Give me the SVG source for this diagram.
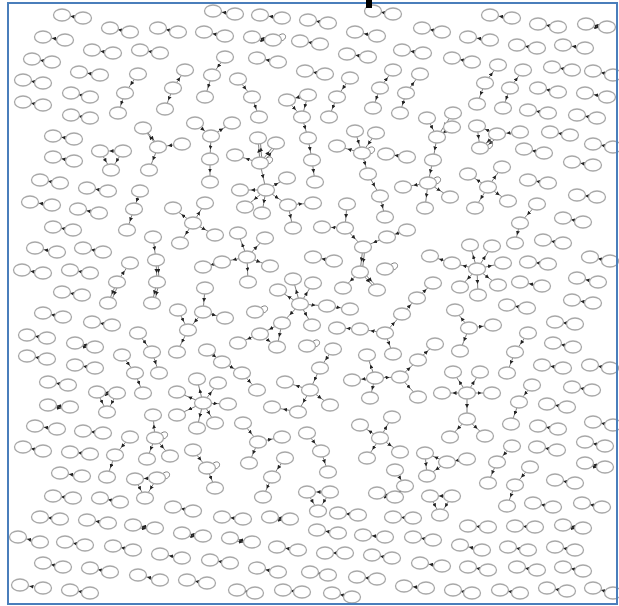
<svg xmlns="http://www.w3.org/2000/svg" xmlns:xlink="http://www.w3.org/1999/xlink" width="619" height="606" viewBox="0 0 619 606">
<style>
.c path{fill:none;stroke:#707070;stroke-width:0.9;marker-mid:url(#a)}
.c path.l{marker-mid:none}
</style>
<defs>
<marker id="a" viewBox="0 0 6 6" refX="3" refY="3" markerWidth="4" markerHeight="4" markerUnits="userSpaceOnUse" orient="auto"><path d="M0,0L6,3L0,6z" fill="#222"/></marker>
<ellipse id="e" cx="0" cy="0" rx="8.5" ry="6" fill="#fff" stroke="#a8a8a8" stroke-width="1.3"/>
</defs>
<rect x="0" y="0" width="619" height="606" fill="#fff"/>
<g class="c" id="connectors">
<path d="M83,18L72.5,16.5L62,15"/><path d="M130,32L120,30L110,28"/><path d="M178,32L168,30L158,28"/><path d="M65,40L54,38.5L43,37"/><path d="M113,53L102.5,51.5L92,50"/><path d="M160,53L150,51.5L140,50"/><path d="M52,62L42,60.5L32,59"/><path d="M100,75L89.5,73.5L79,72"/><path d="M43,83L33,81.5L23,80"/><path d="M90,97L80.5,95L71,93"/><path d="M43,105L33,103.5L23,102"/><path d="M90,118L80.5,116.5L71,115"/><path d="M74,139L63.5,137.5L53,136"/><path d="M74,161L63.5,159L53,157"/><path d="M60,183L50,181.5L40,180"/><path d="M108,191L97.5,189.5L87,188"/><path d="M235,14L224,12.5L213,11"/><path d="M282,18L271,16.5L260,15"/><path d="M328,23L318,21.5L308,20"/><path d="M393,14L383,12.5L373,11"/><path d="M225,36L214.5,34L204,32"/><path d="M273,40L262.5,38.5L252,37"/><path d="M252,39L262.5,40.5L273,42"/><path d="M320,44L310,42.5L300,41"/><path d="M377,36L366,34L355,32"/><path d="M368,57L357.5,55.5L347,54"/><path d="M278,62L267.5,60L257,58"/><path d="M325,74L315,72.5L305,71"/><path d="M423,53L412.5,51.5L402,50"/><path d="M512,18L501,16.5L490,15"/><path d="M442,32L432,30L422,28"/><path d="M558,27L548,25.5L538,24"/><path d="M607,27L596.5,25.5L586,24"/><path d="M586,26L596.5,27.5L607,29"/><path d="M490,40L479,38.5L468,37"/><path d="M537,48L527,46.5L517,45"/><path d="M585,48L574,46.5L563,45"/><path d="M472,62L462,60L452,58"/><path d="M572,70L562,68.5L552,67"/><path d="M613,75L603,73L593,71"/><path d="M558,92L548,90L538,88"/><path d="M607,97L596,95L585,93"/><path d="M548,113L538,111.5L528,110"/><path d="M597,118L587,116.5L577,115"/><path d="M570,135L560,133.5L550,132"/><path d="M613,147L603,145.5L593,144"/><path d="M544,153L534,151L524,149"/><path d="M593,165L582.5,163.5L572,162"/><path d="M548,183L538,181.5L528,180"/><path d="M597,197L587,196L577,195"/><path d="M407,157L396.5,155.5L386,154"/>
<path d="M52,205L41,203.5L30,202"/><path d="M99,213L88.5,211L78,209"/><path d="M73,230L63,228.5L53,227"/><path d="M57,252L46,250L35,248"/><path d="M103,252L93,250L83,248"/><path d="M43,273L32.5,271.5L22,270"/><path d="M90,273L80,271.5L70,270"/><path d="M82,295L72,293.5L62,292"/><path d="M63,317L53,315L43,313"/><path d="M112,325L102,323.5L92,322"/><path d="M47,338L37,336.5L27,335"/><path d="M95,347L85,345L75,343"/><path d="M75,345L85,347L95,349"/><path d="M47,359L37,357.5L27,356"/><path d="M95,368L85,366.5L75,365"/><path d="M68,385L58,383.5L48,382"/><path d="M334,261L323.5,259L313,257"/><path d="M583,222L573,220L563,218"/><path d="M563,243L553,241.5L543,240"/><path d="M548,264L538,263L528,262"/><path d="M610,261L600,259L590,257"/><path d="M542,286L531,284L520,282"/><path d="M598,282L587.5,280L577,278"/><path d="M527,308L517,306.5L507,305"/><path d="M593,303L582.5,301.5L572,300"/><path d="M575,324L565,323L555,322"/><path d="M573,347L563,345L553,343"/><path d="M563,368L552.5,366.5L542,365"/><path d="M610,368L600,366.5L590,365"/><path d="M592,390L582,388.5L572,387"/><path d="M567,407L557,405.5L547,404"/>
<path d="M70,407L59,406L48,405"/><path d="M48,407L59,408L70,409"/><path d="M57,429L46,427.5L35,426"/><path d="M103,433L93,432L83,431"/><path d="M43,451L33,449L23,447"/><path d="M90,454L80,453L70,452"/><path d="M82,476L71,474.5L60,473"/><path d="M73,498L63,497L53,496"/><path d="M120,502L110,500L100,498"/><path d="M60,519L50,518L40,517"/><path d="M108,523L97.5,521.5L87,520"/><path d="M155,528L144,526.5L133,525"/><path d="M133,527L144,528.5L155,530"/><path d="M40,542L29,539.5L18,537"/><path d="M85,545L75,543.5L65,542"/><path d="M133,550L123,548L113,546"/><path d="M182,558L171,556L160,554"/><path d="M63,567L53,565L43,563"/><path d="M110,572L100,570L90,568"/><path d="M160,580L149,577.5L138,575"/><path d="M207,583L197,581.5L187,580"/><path d="M43,588L31.5,586.5L20,585"/><path d="M90,593L80,591.5L70,590"/><path d="M193,511L183,509L173,507"/><path d="M203,536L192.5,534.5L182,533"/><path d="M182,535L192.5,536.5L203,538"/><path d="M358,515L348,514L338,513"/><path d="M243,519L232.5,518L222,517"/><path d="M290,519L280,518L270,517"/><path d="M270,519L280,520L290,521"/><path d="M338,533L327.5,531.5L317,530"/><path d="M385,537L374,536L363,535"/><path d="M252,542L241,540L230,538"/><path d="M230,540L241,542L252,544"/><path d="M298,550L287.5,548.5L277,547"/><path d="M345,553L335,553L325,553"/><path d="M392,558L382,556.5L372,555"/><path d="M230,563L220,561.5L210,560"/><path d="M278,572L267.5,570L257,568"/><path d="M328,575L319,573.5L310,572"/><path d="M377,579L367,578L357,577"/><path d="M255,593L246,591.5L237,590"/><path d="M302,592L292.5,591L283,590"/><path d="M352,597L342,595L332,593"/><path d="M413,518L403,517.5L393,517"/><path d="M558,429L548,427.5L538,426"/><path d="M613,425L603,423.5L593,422"/><path d="M605,446L595,444L585,442"/><path d="M557,450L547,448.5L537,447"/><path d="M605,467L595,465L585,463"/><path d="M585,465L595,467L605,469"/><path d="M575,483L565,481.5L555,480"/><path d="M553,507L543,505L533,503"/><path d="M602,507L592,505L582,503"/><path d="M488,527L478,526.5L468,526"/><path d="M535,527L525,526.5L515,526"/><path d="M583,528L573,526.5L563,525"/><path d="M563,527L573,528.5L583,530"/><path d="M433,540L423,538.5L413,537"/><path d="M482,550L471,547.5L460,545"/><path d="M528,550L518,548.5L508,547"/><path d="M575,550L565,548.5L555,547"/><path d="M442,566L431,564.5L420,563"/><path d="M488,570L478,568.5L468,567"/><path d="M537,570L527,568.5L517,567"/><path d="M583,571L573,569L563,567"/><path d="M426,588L415,587L404,586"/><path d="M472,593L462.5,591.5L453,590"/><path d="M520,593L510,591.5L500,590"/><path d="M567,591L557,589.5L547,588"/><path d="M613,593L603,590.5L593,588"/>
<path d="M138,74L131.5,83.5L125,93"/><path d="M125,93L121.5,103L118,113"/>
<path d="M173,88L179,79L185,70"/><path d="M173,88L169,98.5L165,109"/>
<path d="M123,151L111.5,151L100,151"/><path d="M100,151L105.5,160.5L111,170"/><path d="M123,151L117,160.5L111,170"/>
<path d="M158,147L150.5,137.5L143,128"/><path d="M145,129L152.5,138.5L160,148"/><path d="M182,144L170,145.5L158,147"/><path d="M158,147L153.5,158.5L149,170"/>
<path d="M195,123L203,129.5L211,136"/><path d="M211,136L221.5,129.5L232,123"/><path d="M211,136L210.5,147.5L210,159"/><path d="M210,159L210,170.5L210,182"/>
<path d="M225,57L218.5,66L212,75"/><path d="M212,75L208.5,86L205,97"/>
<path d="M238,79L245,88L252,97"/><path d="M252,97L255.5,107L259,117"/>
<path d="M308,95L297.5,97.5L287,100"/><path d="M287,100L294.5,108.5L302,117"/><path d="M308,95L305,106L302,117"/><path d="M302,117L305,127.5L308,138"/><path d="M308,138L310,149L312,160"/><path d="M312,160L313.5,171L315,182"/>
<path d="M350,78L343.5,87.5L337,97"/><path d="M337,97L333,107L329,117"/>
<path d="M380,88L386.5,79L393,70"/><path d="M380,88L376.5,98L373,108"/>
<path d="M406,93L413,83.5L420,74"/><path d="M406,93L403,103L400,113"/>
<path d="M260,163L259,150.5L258,138"/><path d="M262,162L261,149.5L260,137"/><path d="M260,163L268,153L276,143"/><path d="M262,164L270,154L278,144"/><path d="M260,163L247.5,159L235,155"/><path d="M260,163L263,176.5L266,190"/><path d="M266,190L253,190L240,190"/><path d="M266,190L276.5,184L287,178"/><path d="M266,190L255.5,198.5L245,207"/><path d="M266,190L264,201.5L262,213"/><path d="M266,190L277,197.5L288,205"/><path d="M288,205L300.5,204L313,203"/><path d="M288,205L290.5,216.5L293,228"/>
<path d="M355,131L358.5,142L362,153"/><path d="M376,133L369,143L362,153"/><path d="M362,153L349.5,149.5L337,146"/><path d="M362,153L365,163.5L368,174"/><path d="M368,174L374,185L380,196"/><path d="M380,196L382.5,206.5L385,217"/>
<path d="M427,118L432,127.5L437,137"/><path d="M453,113L445,125L437,137"/><path d="M452,127L444.5,132L437,137"/><path d="M437,137L435,148.5L433,160"/><path d="M433,160L430.5,171.5L428,183"/><path d="M428,183L415.5,185L403,187"/><path d="M428,183L439,190L450,197"/><path d="M428,183L426.5,195.5L425,208"/>
<path d="M497,134L487,130L477,126"/><path d="M520,132L508.5,133L497,134"/><path d="M477,126L478.5,137L480,148"/><path d="M497,134L488.5,141L480,148"/><path d="M499,136L490.5,143L482,150"/>
<path d="M485,83L491.5,74L498,65"/><path d="M485,83L481,93.5L477,104"/>
<path d="M510,88L516.5,79L523,70"/><path d="M510,88L506.5,98L503,108"/>
<path d="M488,187L478,180.5L468,174"/><path d="M488,187L495,177L502,167"/><path d="M488,187L498,194L508,201"/><path d="M488,187L481.5,197.5L475,208"/>
<path d="M140,191L137,200L134,209"/><path d="M134,209L130.5,219.5L127,230"/>
<path d="M117,282L123.5,272.5L130,263"/><path d="M117,282L112.5,292.5L108,303"/><path d="M119,283L114.5,293.5L110,304"/>
<path d="M153,237L154.5,248.5L156,260"/><path d="M156,260L156.5,271L157,282"/><path d="M158,260L158.5,271L159,282"/><path d="M157,282L154.5,292.5L152,303"/><path d="M159,283L156.5,293.5L154,304"/>
<path d="M193,223L183,215.5L173,208"/><path d="M193,223L186.5,233L180,243"/><path d="M193,223L199,213L205,203"/><path d="M193,223L204,229L215,235"/>
<path d="M247,257L242.5,245L238,233"/><path d="M247,257L256,247.5L265,238"/><path d="M247,257L234.5,259.5L222,262"/><path d="M247,257L258.5,261.5L270,266"/><path d="M247,257L247.5,269.5L248,282"/><path d="M222,262L212.5,264.5L203,267"/>
<path d="M178,310L183,320L188,330"/><path d="M203,312L195.5,321L188,330"/><path d="M205,288L204,300L203,312"/><path d="M203,312L214,315L225,318"/><path d="M188,330L182.5,341L177,352"/>
<path d="M138,333L145,342.5L152,352"/><path d="M152,352L155.5,362.5L159,373"/>
<path d="M122,355L128.5,364L135,373"/><path d="M135,373L139,383L143,393"/>
<path d="M207,350L214.5,356L222,362"/><path d="M222,362L232,367.5L242,373"/><path d="M242,373L249.5,381.5L257,390"/>
<path d="M203,403L190,397.5L177,392"/><path d="M203,403L200,391L197,379"/><path d="M203,403L210.5,393L218,383"/><path d="M203,403L215.5,403.5L228,404"/><path d="M203,403L190,409L177,415"/><path d="M203,403L200,415.5L197,428"/><path d="M203,403L209,413L215,423"/>
<path d="M243,423L250.5,432.5L258,442"/><path d="M258,442L270,439.5L282,437"/><path d="M258,442L253.5,452.5L249,463"/>
<path d="M155,438L154,426.5L153,415"/><path d="M155,438L151,448.5L147,459"/><path d="M155,438L162.5,447L170,456"/>
<path d="M130,437L122.5,446L115,455"/><path d="M115,455L111,466L107,477"/>
<path d="M157,478L146,478.5L135,479"/><path d="M135,479L140,488.5L145,498"/><path d="M157,478L151,488L145,498"/>
<path d="M117,393L107,392.5L97,392"/><path d="M97,394L107,394.5L117,395"/><path d="M97,392L102,402L107,412"/><path d="M117,393L112,402.5L107,412"/>
<path d="M193,450L200,459L207,468"/><path d="M207,468L211,478L215,488"/>
<path d="M285,458L278.5,467.5L272,477"/><path d="M272,477L267.5,487L263,497"/>
<path d="M307,433L314,442L321,451"/><path d="M321,451L324.5,461.5L328,472"/>
<path d="M330,492L318.5,492L307,492"/><path d="M307,492L312.5,501.5L318,511"/><path d="M330,492L324,501.5L318,511"/>
<path d="M380,438L370,431.5L360,425"/><path d="M380,438L386,427.5L392,417"/><path d="M380,438L373.5,448L367,458"/><path d="M380,438L390,445L400,452"/>
<path d="M395,470L400,478L405,486"/><path d="M405,486L400,491.5L395,497"/><path d="M395,497L386,495L377,493"/><path d="M377,495L386,497L395,499"/>
<path d="M300,304L296.5,291.5L293,279"/><path d="M300,304L306.5,293.5L313,283"/><path d="M300,304L289,297L278,290"/><path d="M300,304L313.5,305L327,306"/><path d="M300,304L306,314.5L312,325"/><path d="M300,304L291,313.5L282,323"/><path d="M327,306L338.5,307.5L350,309"/><path d="M282,323L271,328.5L260,334"/><path d="M260,334L249,338.5L238,343"/><path d="M282,323L279.5,335L277,347"/><path d="M260,334L268.5,340.5L277,347"/>
<path d="M333,349L326.5,358.5L320,368"/><path d="M320,368L315,379L310,390"/><path d="M310,390L297.5,386L285,382"/><path d="M310,390L304,401L298,412"/><path d="M310,390L320,397.5L330,405"/><path d="M298,412L285,409.5L272,407"/>
<path d="M360,329L348.5,328.5L337,328"/><path d="M385,333L372.5,331L360,329"/><path d="M385,333L393.5,323.5L402,314"/><path d="M385,333L389,343.5L393,354"/><path d="M402,314L409.5,306L417,298"/><path d="M417,298L425,290.5L433,283"/>
<path d="M375,378L371,366.5L367,355"/><path d="M375,378L363.5,379L352,380"/><path d="M375,378L387.5,377.5L400,377"/><path d="M375,378L372.5,388L370,398"/><path d="M400,377L409,368.5L418,360"/><path d="M418,360L426.5,352L435,344"/><path d="M400,377L409,387L418,397"/>
<path d="M347,204L346,216L345,228"/><path d="M345,228L333.5,227.5L322,227"/><path d="M345,228L354,237.5L363,247"/><path d="M387,237L375,242L363,247"/><path d="M407,230L397,233.5L387,237"/><path d="M363,247L361.5,259.5L360,272"/><path d="M365,248L363.5,260.5L362,273"/><path d="M360,272L351.5,280L343,288"/><path d="M360,272L368.5,281L377,290"/><path d="M362,271L370.5,280L379,289"/>
<path d="M537,204L528.5,213.5L520,223"/><path d="M520,223L517.5,233L515,243"/>
<path d="M477,269L473.5,257L470,245"/><path d="M477,269L484.5,257.5L492,246"/><path d="M477,269L490,266L503,263"/><path d="M477,269L487.5,277L498,285"/><path d="M477,269L477.5,282L478,295"/><path d="M477,269L468.5,278L460,287"/><path d="M477,269L464.5,266L452,263"/><path d="M452,263L441,259.5L430,256"/>
<path d="M469,328L462,319L455,310"/><path d="M469,328L481,326.5L493,325"/><path d="M469,328L464.5,339.5L460,351"/>
<path d="M528,333L521.5,342.5L515,352"/><path d="M515,352L511,362.5L507,373"/>
<path d="M467,393L460,382.5L453,372"/><path d="M467,393L473.5,382.5L480,372"/><path d="M467,393L454.5,393L442,393"/><path d="M467,393L479.5,393L492,393"/><path d="M467,393L467,406L467,419"/><path d="M467,419L458.5,428L450,437"/><path d="M467,419L476,427.5L485,436"/>
<path d="M532,385L525.5,393.5L519,402"/><path d="M519,402L515,413L511,424"/>
<path d="M425,453L426,464.5L427,476"/><path d="M447,462L436,457.5L425,453"/><path d="M447,462L437,469L427,476"/><path d="M467,459L457,460.5L447,462"/>
<path d="M452,496L441,496L430,496"/><path d="M430,496L435,505.5L440,515"/><path d="M452,496L446,505.5L440,515"/>
<path d="M512,446L504.5,454L497,462"/><path d="M497,462L492.5,472.5L488,483"/>
<path d="M530,467L522.5,476L515,485"/><path d="M515,485L511,495.5L507,506"/>
<path class="l" d="M279,35.5c6,-5 10,3 2.5,5.5"/><path class="l" d="M266,158.5c6,-5 10,3 2.5,5.5"/><path class="l" d="M368,148.5c6,-5 10,3 2.5,5.5"/><path class="l" d="M434,178.5c6,-5 10,3 2.5,5.5"/><path class="l" d="M486,143.5c6,-5 10,3 2.5,5.5"/><path class="l" d="M161,433.5c6,-5 10,3 2.5,5.5"/><path class="l" d="M163,473.5c6,-5 10,3 2.5,5.5"/><path class="l" d="M213,463.5c6,-5 10,3 2.5,5.5"/><path class="l" d="M261,307.5c6,-5 10,3 2.5,5.5"/><path class="l" d="M313,341.5c6,-5 10,3 2.5,5.5"/><path class="l" d="M391,264.5c6,-5 10,3 2.5,5.5"/>
</g>
<g id="pairs-top">
<use href="#e" x="62" y="15"/><use href="#e" x="83" y="18"/><use href="#e" x="110" y="28"/><use href="#e" x="130" y="32"/><use href="#e" x="158" y="28"/><use href="#e" x="178" y="32"/><use href="#e" x="43" y="37"/><use href="#e" x="65" y="40"/><use href="#e" x="92" y="50"/><use href="#e" x="113" y="53"/><use href="#e" x="140" y="50"/><use href="#e" x="160" y="53"/><use href="#e" x="32" y="59"/><use href="#e" x="52" y="62"/><use href="#e" x="79" y="72"/><use href="#e" x="100" y="75"/><use href="#e" x="23" y="80"/><use href="#e" x="43" y="83"/><use href="#e" x="71" y="93"/><use href="#e" x="90" y="97"/><use href="#e" x="23" y="102"/><use href="#e" x="43" y="105"/><use href="#e" x="71" y="115"/><use href="#e" x="90" y="118"/><use href="#e" x="53" y="136"/><use href="#e" x="74" y="139"/><use href="#e" x="53" y="157"/><use href="#e" x="74" y="161"/><use href="#e" x="40" y="180"/><use href="#e" x="60" y="183"/><use href="#e" x="87" y="188"/><use href="#e" x="108" y="191"/>
<use href="#e" x="213" y="11"/><use href="#e" x="235" y="14"/><use href="#e" x="260" y="15"/><use href="#e" x="282" y="18"/><use href="#e" x="308" y="20"/><use href="#e" x="328" y="23"/><use href="#e" x="373" y="11"/><use href="#e" x="393" y="14"/><use href="#e" x="204" y="32"/><use href="#e" x="225" y="36"/><use href="#e" x="252" y="37"/><use href="#e" x="273" y="40"/><use href="#e" x="300" y="41"/><use href="#e" x="320" y="44"/><use href="#e" x="355" y="32"/><use href="#e" x="377" y="36"/><use href="#e" x="347" y="54"/><use href="#e" x="368" y="57"/><use href="#e" x="257" y="58"/><use href="#e" x="278" y="62"/><use href="#e" x="305" y="71"/><use href="#e" x="325" y="74"/><use href="#e" x="402" y="50"/><use href="#e" x="423" y="53"/>
<use href="#e" x="490" y="15"/><use href="#e" x="512" y="18"/><use href="#e" x="422" y="28"/><use href="#e" x="442" y="32"/><use href="#e" x="538" y="24"/><use href="#e" x="558" y="27"/><use href="#e" x="586" y="24"/><use href="#e" x="607" y="27"/><use href="#e" x="468" y="37"/><use href="#e" x="490" y="40"/><use href="#e" x="517" y="45"/><use href="#e" x="537" y="48"/><use href="#e" x="563" y="45"/><use href="#e" x="585" y="48"/><use href="#e" x="452" y="58"/><use href="#e" x="472" y="62"/><use href="#e" x="552" y="67"/><use href="#e" x="572" y="70"/><use href="#e" x="593" y="71"/><use href="#e" x="613" y="75"/><use href="#e" x="538" y="88"/><use href="#e" x="558" y="92"/><use href="#e" x="585" y="93"/><use href="#e" x="607" y="97"/><use href="#e" x="528" y="110"/><use href="#e" x="548" y="113"/><use href="#e" x="577" y="115"/><use href="#e" x="597" y="118"/><use href="#e" x="550" y="132"/><use href="#e" x="570" y="135"/><use href="#e" x="593" y="144"/><use href="#e" x="613" y="147"/><use href="#e" x="524" y="149"/><use href="#e" x="544" y="153"/><use href="#e" x="572" y="162"/><use href="#e" x="593" y="165"/><use href="#e" x="528" y="180"/><use href="#e" x="548" y="183"/><use href="#e" x="577" y="195"/><use href="#e" x="597" y="197"/><use href="#e" x="386" y="154"/><use href="#e" x="407" y="157"/>
</g>
<g id="pairs-middle">
<use href="#e" x="30" y="202"/><use href="#e" x="52" y="205"/><use href="#e" x="78" y="209"/><use href="#e" x="99" y="213"/><use href="#e" x="53" y="227"/><use href="#e" x="73" y="230"/><use href="#e" x="35" y="248"/><use href="#e" x="57" y="252"/><use href="#e" x="83" y="248"/><use href="#e" x="103" y="252"/><use href="#e" x="22" y="270"/><use href="#e" x="43" y="273"/><use href="#e" x="70" y="270"/><use href="#e" x="90" y="273"/><use href="#e" x="62" y="292"/><use href="#e" x="82" y="295"/><use href="#e" x="43" y="313"/><use href="#e" x="63" y="317"/><use href="#e" x="92" y="322"/><use href="#e" x="112" y="325"/><use href="#e" x="27" y="335"/><use href="#e" x="47" y="338"/><use href="#e" x="75" y="343"/><use href="#e" x="95" y="347"/><use href="#e" x="27" y="356"/><use href="#e" x="47" y="359"/><use href="#e" x="75" y="365"/><use href="#e" x="95" y="368"/><use href="#e" x="48" y="382"/><use href="#e" x="68" y="385"/>
<use href="#e" x="313" y="257"/><use href="#e" x="334" y="261"/><use href="#e" x="563" y="218"/><use href="#e" x="583" y="222"/><use href="#e" x="543" y="240"/><use href="#e" x="563" y="243"/><use href="#e" x="528" y="262"/><use href="#e" x="548" y="264"/><use href="#e" x="590" y="257"/><use href="#e" x="610" y="261"/><use href="#e" x="520" y="282"/><use href="#e" x="542" y="286"/><use href="#e" x="577" y="278"/><use href="#e" x="598" y="282"/><use href="#e" x="507" y="305"/><use href="#e" x="527" y="308"/><use href="#e" x="572" y="300"/><use href="#e" x="593" y="303"/><use href="#e" x="555" y="322"/><use href="#e" x="575" y="324"/><use href="#e" x="553" y="343"/><use href="#e" x="573" y="347"/><use href="#e" x="542" y="365"/><use href="#e" x="563" y="368"/><use href="#e" x="590" y="365"/><use href="#e" x="610" y="368"/><use href="#e" x="572" y="387"/><use href="#e" x="592" y="390"/><use href="#e" x="547" y="404"/><use href="#e" x="567" y="407"/>
</g>
<g id="pairs-bottom">
<use href="#e" x="48" y="405"/><use href="#e" x="70" y="407"/><use href="#e" x="35" y="426"/><use href="#e" x="57" y="429"/><use href="#e" x="83" y="431"/><use href="#e" x="103" y="433"/><use href="#e" x="23" y="447"/><use href="#e" x="43" y="451"/><use href="#e" x="70" y="452"/><use href="#e" x="90" y="454"/><use href="#e" x="60" y="473"/><use href="#e" x="82" y="476"/><use href="#e" x="53" y="496"/><use href="#e" x="73" y="498"/><use href="#e" x="100" y="498"/><use href="#e" x="120" y="502"/><use href="#e" x="40" y="517"/><use href="#e" x="60" y="519"/><use href="#e" x="87" y="520"/><use href="#e" x="108" y="523"/><use href="#e" x="133" y="525"/><use href="#e" x="155" y="528"/><use href="#e" x="18" y="537"/><use href="#e" x="40" y="542"/><use href="#e" x="65" y="542"/><use href="#e" x="85" y="545"/><use href="#e" x="113" y="546"/><use href="#e" x="133" y="550"/><use href="#e" x="160" y="554"/><use href="#e" x="182" y="558"/><use href="#e" x="43" y="563"/><use href="#e" x="63" y="567"/><use href="#e" x="90" y="568"/><use href="#e" x="110" y="572"/><use href="#e" x="138" y="575"/><use href="#e" x="160" y="580"/><use href="#e" x="187" y="580"/><use href="#e" x="207" y="583"/><use href="#e" x="20" y="585"/><use href="#e" x="43" y="588"/><use href="#e" x="70" y="590"/><use href="#e" x="90" y="593"/><use href="#e" x="173" y="507"/><use href="#e" x="193" y="511"/><use href="#e" x="182" y="533"/><use href="#e" x="203" y="536"/>
<use href="#e" x="338" y="513"/><use href="#e" x="358" y="515"/><use href="#e" x="222" y="517"/><use href="#e" x="243" y="519"/><use href="#e" x="270" y="517"/><use href="#e" x="290" y="519"/><use href="#e" x="317" y="530"/><use href="#e" x="338" y="533"/><use href="#e" x="363" y="535"/><use href="#e" x="385" y="537"/><use href="#e" x="230" y="538"/><use href="#e" x="252" y="542"/><use href="#e" x="277" y="547"/><use href="#e" x="298" y="550"/><use href="#e" x="325" y="553"/><use href="#e" x="345" y="553"/><use href="#e" x="372" y="555"/><use href="#e" x="392" y="558"/><use href="#e" x="210" y="560"/><use href="#e" x="230" y="563"/><use href="#e" x="257" y="568"/><use href="#e" x="278" y="572"/><use href="#e" x="310" y="572"/><use href="#e" x="328" y="575"/><use href="#e" x="357" y="577"/><use href="#e" x="377" y="579"/><use href="#e" x="237" y="590"/><use href="#e" x="255" y="593"/><use href="#e" x="283" y="590"/><use href="#e" x="302" y="592"/><use href="#e" x="332" y="593"/><use href="#e" x="352" y="597"/><use href="#e" x="393" y="517"/><use href="#e" x="413" y="518"/>
<use href="#e" x="538" y="426"/><use href="#e" x="558" y="429"/><use href="#e" x="593" y="422"/><use href="#e" x="613" y="425"/><use href="#e" x="585" y="442"/><use href="#e" x="605" y="446"/><use href="#e" x="537" y="447"/><use href="#e" x="557" y="450"/><use href="#e" x="585" y="463"/><use href="#e" x="605" y="467"/><use href="#e" x="555" y="480"/><use href="#e" x="575" y="483"/><use href="#e" x="533" y="503"/><use href="#e" x="553" y="507"/><use href="#e" x="582" y="503"/><use href="#e" x="602" y="507"/><use href="#e" x="468" y="526"/><use href="#e" x="488" y="527"/><use href="#e" x="515" y="526"/><use href="#e" x="535" y="527"/><use href="#e" x="563" y="525"/><use href="#e" x="583" y="528"/><use href="#e" x="413" y="537"/><use href="#e" x="433" y="540"/><use href="#e" x="460" y="545"/><use href="#e" x="482" y="550"/><use href="#e" x="508" y="547"/><use href="#e" x="528" y="550"/><use href="#e" x="555" y="547"/><use href="#e" x="575" y="550"/><use href="#e" x="420" y="563"/><use href="#e" x="442" y="566"/><use href="#e" x="468" y="567"/><use href="#e" x="488" y="570"/><use href="#e" x="517" y="567"/><use href="#e" x="537" y="570"/><use href="#e" x="563" y="567"/><use href="#e" x="583" y="571"/><use href="#e" x="404" y="586"/><use href="#e" x="426" y="588"/><use href="#e" x="453" y="590"/><use href="#e" x="472" y="593"/><use href="#e" x="500" y="590"/><use href="#e" x="520" y="593"/><use href="#e" x="547" y="588"/><use href="#e" x="567" y="591"/><use href="#e" x="593" y="588"/><use href="#e" x="613" y="593"/>
</g>
<g id="clusters">
<g id="k1"><use href="#e" x="138" y="74"/><use href="#e" x="125" y="93"/><use href="#e" x="118" y="113"/></g>
<g id="k2"><use href="#e" x="185" y="70"/><use href="#e" x="173" y="88"/><use href="#e" x="165" y="109"/></g>
<g id="k3"><use href="#e" x="100" y="151"/><use href="#e" x="123" y="151"/><use href="#e" x="111" y="170"/></g>
<g id="k4"><use href="#e" x="158" y="147"/><use href="#e" x="143" y="128"/><use href="#e" x="182" y="144"/><use href="#e" x="149" y="170"/></g>
<g id="k5"><use href="#e" x="195" y="123"/><use href="#e" x="211" y="136"/><use href="#e" x="232" y="123"/><use href="#e" x="210" y="159"/><use href="#e" x="210" y="182"/></g>
<g id="k6"><use href="#e" x="225" y="57"/><use href="#e" x="212" y="75"/><use href="#e" x="205" y="97"/></g>
<g id="k7"><use href="#e" x="238" y="79"/><use href="#e" x="252" y="97"/><use href="#e" x="259" y="117"/></g>
<g id="k8"><use href="#e" x="287" y="100"/><use href="#e" x="308" y="95"/><use href="#e" x="302" y="117"/><use href="#e" x="308" y="138"/><use href="#e" x="312" y="160"/><use href="#e" x="315" y="182"/></g>
<g id="k9"><use href="#e" x="350" y="78"/><use href="#e" x="337" y="97"/><use href="#e" x="329" y="117"/></g>
<g id="k10"><use href="#e" x="393" y="70"/><use href="#e" x="380" y="88"/><use href="#e" x="373" y="108"/></g>
<g id="k11"><use href="#e" x="420" y="74"/><use href="#e" x="406" y="93"/><use href="#e" x="400" y="113"/></g>
<g id="k12"><use href="#e" x="260" y="163"/><use href="#e" x="258" y="138"/><use href="#e" x="276" y="143"/><use href="#e" x="235" y="155"/><use href="#e" x="266" y="190"/><use href="#e" x="240" y="190"/><use href="#e" x="287" y="178"/><use href="#e" x="245" y="207"/><use href="#e" x="262" y="213"/><use href="#e" x="288" y="205"/><use href="#e" x="313" y="203"/><use href="#e" x="293" y="228"/></g>
<g id="k13"><use href="#e" x="362" y="153"/><use href="#e" x="355" y="131"/><use href="#e" x="376" y="133"/><use href="#e" x="337" y="146"/><use href="#e" x="368" y="174"/><use href="#e" x="380" y="196"/><use href="#e" x="385" y="217"/></g>
<g id="k14"><use href="#e" x="427" y="118"/><use href="#e" x="453" y="113"/><use href="#e" x="452" y="127"/><use href="#e" x="437" y="137"/><use href="#e" x="433" y="160"/><use href="#e" x="428" y="183"/><use href="#e" x="403" y="187"/><use href="#e" x="450" y="197"/><use href="#e" x="425" y="208"/></g>
<g id="k15"><use href="#e" x="477" y="126"/><use href="#e" x="497" y="134"/><use href="#e" x="480" y="148"/><use href="#e" x="520" y="132"/></g>
<g id="k16"><use href="#e" x="498" y="65"/><use href="#e" x="485" y="83"/><use href="#e" x="477" y="104"/></g>
<g id="k17"><use href="#e" x="523" y="70"/><use href="#e" x="510" y="88"/><use href="#e" x="503" y="108"/></g>
<g id="k18"><use href="#e" x="488" y="187"/><use href="#e" x="468" y="174"/><use href="#e" x="502" y="167"/><use href="#e" x="508" y="201"/><use href="#e" x="475" y="208"/></g>
<g id="k19"><use href="#e" x="140" y="191"/><use href="#e" x="134" y="209"/><use href="#e" x="127" y="230"/></g>
<g id="k20"><use href="#e" x="130" y="263"/><use href="#e" x="117" y="282"/><use href="#e" x="108" y="303"/></g>
<g id="k21"><use href="#e" x="153" y="237"/><use href="#e" x="156" y="260"/><use href="#e" x="157" y="282"/><use href="#e" x="152" y="303"/></g>
<g id="k22"><use href="#e" x="193" y="223"/><use href="#e" x="173" y="208"/><use href="#e" x="180" y="243"/><use href="#e" x="205" y="203"/><use href="#e" x="215" y="235"/></g>
<g id="k23"><use href="#e" x="247" y="257"/><use href="#e" x="238" y="233"/><use href="#e" x="265" y="238"/><use href="#e" x="222" y="262"/><use href="#e" x="270" y="266"/><use href="#e" x="248" y="282"/><use href="#e" x="203" y="267"/></g>
<g id="k24"><use href="#e" x="178" y="310"/><use href="#e" x="188" y="330"/><use href="#e" x="205" y="288"/><use href="#e" x="203" y="312"/><use href="#e" x="225" y="318"/><use href="#e" x="177" y="352"/></g>
<g id="k25"><use href="#e" x="138" y="333"/><use href="#e" x="152" y="352"/><use href="#e" x="159" y="373"/></g>
<g id="k26"><use href="#e" x="122" y="355"/><use href="#e" x="135" y="373"/><use href="#e" x="143" y="393"/></g>
<g id="k27"><use href="#e" x="207" y="350"/><use href="#e" x="222" y="362"/><use href="#e" x="242" y="373"/><use href="#e" x="257" y="390"/></g>
<g id="k28"><use href="#e" x="203" y="403"/><use href="#e" x="177" y="392"/><use href="#e" x="197" y="379"/><use href="#e" x="218" y="383"/><use href="#e" x="228" y="404"/><use href="#e" x="177" y="415"/><use href="#e" x="197" y="428"/><use href="#e" x="215" y="423"/></g>
<g id="k29"><use href="#e" x="258" y="442"/><use href="#e" x="243" y="423"/><use href="#e" x="282" y="437"/><use href="#e" x="249" y="463"/></g>
<g id="k30"><use href="#e" x="155" y="438"/><use href="#e" x="153" y="415"/><use href="#e" x="147" y="459"/><use href="#e" x="170" y="456"/></g>
<g id="k31"><use href="#e" x="130" y="437"/><use href="#e" x="115" y="455"/><use href="#e" x="107" y="477"/></g>
<g id="k32"><use href="#e" x="135" y="479"/><use href="#e" x="157" y="478"/><use href="#e" x="145" y="498"/></g>
<g id="k33"><use href="#e" x="97" y="392"/><use href="#e" x="117" y="393"/><use href="#e" x="107" y="412"/></g>
<g id="k34"><use href="#e" x="193" y="450"/><use href="#e" x="207" y="468"/><use href="#e" x="215" y="488"/></g>
<g id="k35"><use href="#e" x="285" y="458"/><use href="#e" x="272" y="477"/><use href="#e" x="263" y="497"/></g>
<g id="k36"><use href="#e" x="307" y="433"/><use href="#e" x="321" y="451"/><use href="#e" x="328" y="472"/></g>
<g id="k37"><use href="#e" x="307" y="492"/><use href="#e" x="330" y="492"/><use href="#e" x="318" y="511"/></g>
<g id="k38"><use href="#e" x="380" y="438"/><use href="#e" x="360" y="425"/><use href="#e" x="392" y="417"/><use href="#e" x="367" y="458"/><use href="#e" x="400" y="452"/></g>
<g id="k39"><use href="#e" x="377" y="493"/><use href="#e" x="395" y="497"/><use href="#e" x="395" y="470"/><use href="#e" x="405" y="486"/></g>
<g id="k40"><use href="#e" x="300" y="304"/><use href="#e" x="293" y="279"/><use href="#e" x="313" y="283"/><use href="#e" x="278" y="290"/><use href="#e" x="327" y="306"/><use href="#e" x="312" y="325"/><use href="#e" x="282" y="323"/><use href="#e" x="350" y="309"/><use href="#e" x="260" y="334"/><use href="#e" x="238" y="343"/><use href="#e" x="277" y="347"/></g>
<g id="k41"><use href="#e" x="255" y="312"/></g>
<g id="k42"><use href="#e" x="307" y="346"/></g>
<g id="k43"><use href="#e" x="333" y="349"/><use href="#e" x="320" y="368"/><use href="#e" x="310" y="390"/><use href="#e" x="285" y="382"/><use href="#e" x="298" y="412"/><use href="#e" x="330" y="405"/><use href="#e" x="272" y="407"/></g>
<g id="k44"><use href="#e" x="337" y="328"/><use href="#e" x="360" y="329"/><use href="#e" x="385" y="333"/><use href="#e" x="402" y="314"/><use href="#e" x="393" y="354"/><use href="#e" x="417" y="298"/><use href="#e" x="433" y="283"/></g>
<g id="k45"><use href="#e" x="375" y="378"/><use href="#e" x="367" y="355"/><use href="#e" x="352" y="380"/><use href="#e" x="400" y="377"/><use href="#e" x="370" y="398"/><use href="#e" x="418" y="360"/><use href="#e" x="435" y="344"/><use href="#e" x="418" y="397"/></g>
<g id="k46"><use href="#e" x="347" y="204"/><use href="#e" x="345" y="228"/><use href="#e" x="322" y="227"/><use href="#e" x="363" y="247"/><use href="#e" x="387" y="237"/><use href="#e" x="407" y="230"/><use href="#e" x="360" y="272"/><use href="#e" x="343" y="288"/><use href="#e" x="377" y="290"/></g>
<g id="k47"><use href="#e" x="385" y="269"/></g>
<g id="k48"><use href="#e" x="537" y="204"/><use href="#e" x="520" y="223"/><use href="#e" x="515" y="243"/></g>
<g id="k49"><use href="#e" x="477" y="269"/><use href="#e" x="470" y="245"/><use href="#e" x="492" y="246"/><use href="#e" x="503" y="263"/><use href="#e" x="498" y="285"/><use href="#e" x="478" y="295"/><use href="#e" x="460" y="287"/><use href="#e" x="452" y="263"/><use href="#e" x="430" y="256"/></g>
<g id="k50"><use href="#e" x="469" y="328"/><use href="#e" x="455" y="310"/><use href="#e" x="493" y="325"/><use href="#e" x="460" y="351"/></g>
<g id="k51"><use href="#e" x="528" y="333"/><use href="#e" x="515" y="352"/><use href="#e" x="507" y="373"/></g>
<g id="k52"><use href="#e" x="467" y="393"/><use href="#e" x="453" y="372"/><use href="#e" x="480" y="372"/><use href="#e" x="442" y="393"/><use href="#e" x="492" y="393"/><use href="#e" x="467" y="419"/><use href="#e" x="450" y="437"/><use href="#e" x="485" y="436"/></g>
<g id="k53"><use href="#e" x="532" y="385"/><use href="#e" x="519" y="402"/><use href="#e" x="511" y="424"/></g>
<g id="k54"><use href="#e" x="425" y="453"/><use href="#e" x="447" y="462"/><use href="#e" x="427" y="476"/><use href="#e" x="467" y="459"/></g>
<g id="k55"><use href="#e" x="430" y="496"/><use href="#e" x="452" y="496"/><use href="#e" x="440" y="515"/></g>
<g id="k56"><use href="#e" x="512" y="446"/><use href="#e" x="497" y="462"/><use href="#e" x="488" y="483"/></g>
<g id="k57"><use href="#e" x="530" y="467"/><use href="#e" x="515" y="485"/><use href="#e" x="507" y="506"/></g>
</g>
<rect x="8" y="3" width="609" height="601" fill="none" stroke="#4a7ebb" stroke-width="2"/>
<rect x="366" y="0" width="6" height="8" fill="#000"/>
</svg>
